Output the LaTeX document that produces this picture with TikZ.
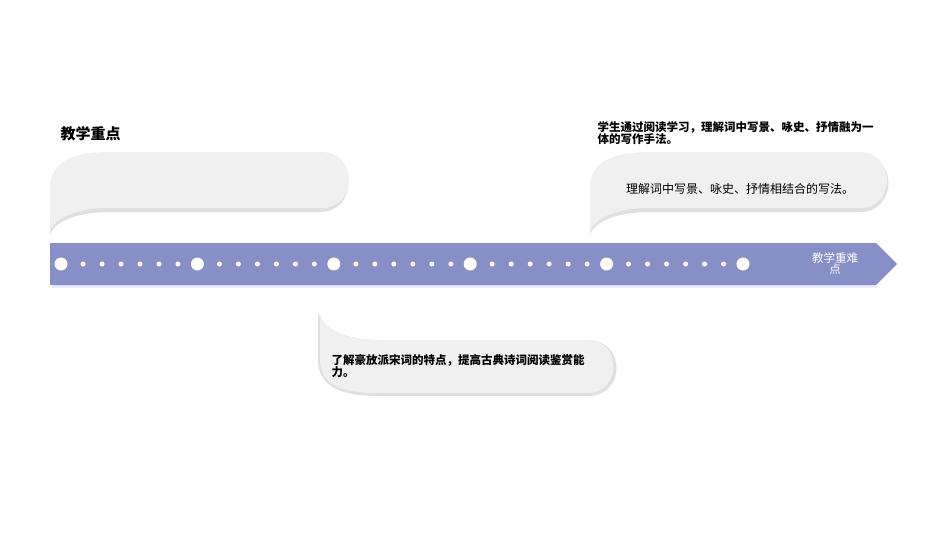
\documentclass[tikz,border=0pt]{standalone}
\usepackage{fontspec}
\setmainfont{Noto Sans CJK SC}
\begin{document}
\begin{tikzpicture}[x=1pt,y=-1pt,
  bub/.style={fill=black!6},
  shad/.style={fill=black!12},
  big/.style={circle,fill=white,inner sep=0,minimum size=13pt},
  small/.style={circle,fill=white,inner sep=0,minimum size=5pt},
  txt/.style={font=\bfseries\fontsize{11.5}{12}\selectfont,align=left,anchor=north west}]
\useasboundingbox (0,0) rectangle (950,535);
% top-left bubble
\fill[shad] (50,235) -- (50,190) .. controls (50,160) and (80,154) .. (110,154) -- (320,154) .. controls (358,154) and (358,212) .. (320,212) -- (110,212) .. controls (80,212) and (55,220) .. (50,235) -- cycle;
\fill[bub] (50,232) -- (50,188) .. controls (50,158) and (80,152) .. (110,152) -- (322,152) .. controls (358,152) and (358,208) .. (322,208) -- (110,208) .. controls (80,208) and (55,216) .. (50,232) -- cycle;
% top-right bubble
\fill[shad] (590,235) -- (590,190) .. controls (590,160) and (620,154) .. (650,154) -- (860,154) .. controls (898,154) and (898,212) .. (860,212) -- (650,212) .. controls (620,212) and (595,220) .. (590,235) -- cycle;
\fill[bub] (590,232) -- (590,188) .. controls (590,158) and (620,152) .. (650,152) -- (860,152) .. controls (896,152) and (896,208) .. (860,208) -- (650,208) .. controls (620,208) and (595,216) .. (590,232) -- cycle;
% bottom bubble
\fill[shad] (318,312) -- (318,360) .. controls (318,390) and (348,396) .. (378,396) -- (588,396) .. controls (626,396) and (626,340) .. (588,340) -- (378,340) .. controls (348,340) and (323,330) .. (318,312) -- cycle;
\fill[bub] (320,314) -- (320,360) .. controls (320,388) and (348,393) .. (378,393) -- (588,393) .. controls (622,393) and (622,340) .. (588,340) -- (378,340) .. controls (350,340) and (325,332) .. (320,314) -- cycle;
% bar
\fill[blue!8] (52,285) -- (877,285) -- (877,288) -- (52,288) -- cycle;
\fill[fill={rgb,255:red,135;green,143;blue,199}] (50,243) -- (876,243) -- (897,264) -- (876,285) -- (50,285) -- cycle;
\foreach \i in {0,...,5} {
  \node[big] (b\i) at (61+136.4*\i,264) {};
}
\foreach \i in {0,...,4} {
  \foreach \j in {1,...,6} {
    \node[small] (s\i\j) at (61+136.4*\i+19*\j+3,264) {};
  }
}
\node[white,font=\fontsize{11.5}{11}\selectfont,align=center] (bl) at (835,264) {教学重难\\点};
% texts
\node[anchor=west,font=\bfseries\fontsize{15}{16}\selectfont] (t1) at (57,134) {教学重点};
\node[txt] (t2) at (594,118) {学生通过阅读学习，理解词中写景、咏史、抒情融为一\\体的写作手法。};
\node[font=\fontsize{12}{13}\selectfont] (t3) at (740,189) {理解词中写景、咏史、抒情相结合的写法。};
\node[txt] (t4) at (328,351) {了解豪放派宋词的特点，提高古典诗词阅读鉴赏能\\力。};
\end{tikzpicture}
\end{document}
